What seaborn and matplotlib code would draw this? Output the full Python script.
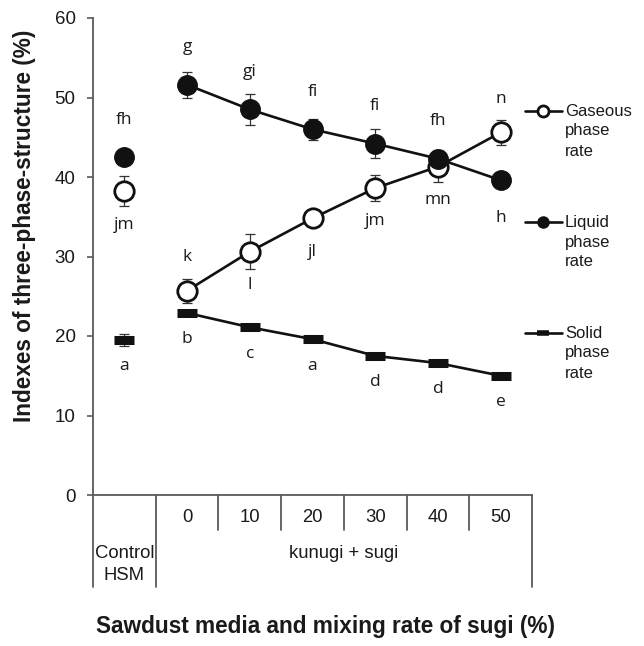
import matplotlib
matplotlib.use("Agg")
import matplotlib.pyplot as plt
from matplotlib.lines import Line2D
import matplotlib.transforms as mtransforms
import numpy as np
import pandas as pd
import seaborn as sns

# Categories along the x axis
groups = ["Control\nHSM", "0", "10", "20", "30", "40", "50"]
mix_labels = ["0", "10", "20", "30", "40", "50"]

# Three-phase-structure indexes (%) and their errors
gaseous = [38.2, 25.7, 30.6, 34.8, 38.6, 41.3, 45.6]
gaseous_err = [1.9, 1.5, 2.2, 0.7, 1.6, 1.9, 1.6]
liquid = [42.5, 51.6, 48.5, 46.0, 44.2, 42.3, 39.6]
liquid_err = [0.9, 1.6, 1.9, 1.3, 1.8, 1.1, 0.8]
solid = [19.5, 22.9, 21.1, 19.6, 17.5, 16.6, 15.0]
solid_err = [0.8, 0.3, 0.3, 0.3, 0.3, 0.3, 0.3]

# Significance letters and on which side of the point they sit (+1 above, -1 below)
gaseous_letters = ["jm", "k", "l", "jl", "jm", "mn", "n"]
gaseous_side = [-1, 1, -1, -1, -1, -1, 1]
liquid_letters = ["fh", "g", "gi", "fi", "fi", "fh", "h"]
liquid_side = [1, 1, 1, 1, 1, 1, -1]
solid_letters = ["a", "b", "c", "a", "d", "d", "e"]
solid_side = [-1, -1, -1, -1, -1, -1, -1]

legend_labels = [["Gaseous", "phase", "rate"],
                 ["Liquid", "phase", "rate"],
                 ["Solid", "phase", "rate"]]

sns.set_style("white")
plt.rcParams["font.family"] = ["Liberation Sans", "DejaVu Sans"]

W, H = 644, 646
fig = plt.figure(figsize=(W / 100, H / 100), dpi=100)
ax_l, ax_r, ax_t, ax_b = 93, 532, 18, 495
ax = fig.add_axes([ax_l / W, 1 - ax_b / H, (ax_r - ax_l) / W, (ax_b - ax_t) / H])

x = np.arange(len(groups))
df = pd.DataFrame({"pos": x, "gaseous": gaseous, "liquid": liquid, "solid": solid})
mix = df.iloc[1:]
ctrl = df.iloc[:1]

axis_col = "#5a5a5a"
ink = "#111111"
txt = "#1a1a1a"
err_col = "#333333"

# error bars
for vals, errs in [(gaseous, gaseous_err), (liquid, liquid_err), (solid, solid_err)]:
    ax.errorbar(x, vals, yerr=errs, fmt="none", ecolor=err_col, elinewidth=0.9,
                capsize=3.5, capthick=0.9, zorder=2, clip_on=False)

solid_kw = dict(marker="_", markersize=15, markeredgewidth=6.5, color=ink,
                markeredgecolor=ink)
gas_kw = dict(marker="o", markersize=14, markerfacecolor="white",
              markeredgecolor=ink, markeredgewidth=2.0, color=ink)
liq_kw = dict(marker="o", markersize=14, markerfacecolor=ink,
              markeredgecolor=ink, markeredgewidth=1.0, color=ink)

sns.lineplot(data=mix, x="pos", y="solid", linewidth=1.9, ax=ax, zorder=3, **solid_kw)
sns.lineplot(data=mix, x="pos", y="gaseous", linewidth=1.9, ax=ax, zorder=4, **gas_kw)
sns.lineplot(data=mix, x="pos", y="liquid", linewidth=1.9, ax=ax, zorder=5, **liq_kw)
for col, kw, z in [("solid", solid_kw, 3), ("gaseous", gas_kw, 4), ("liquid", liq_kw, 5)]:
    ax.plot(ctrl["pos"], ctrl[col], linestyle="none", zorder=z, clip_on=False, **kw)

# significance letters
letter_font = dict(family=["Open Sans", "DejaVu Sans"], fontsize=12.5, color=txt,
                   ha="center", va="center")
for vals, letters, sides, off in [(gaseous, gaseous_letters, gaseous_side, 24),
                                  (liquid, liquid_letters, liquid_side, 27),
                                  (solid, solid_letters, solid_side, 19)]:
    for xi, v, lab, s in zip(x, vals, letters, sides):
        ax.annotate(lab, (xi, v), xytext=(0, s * off), textcoords="offset points",
                    annotation_clip=False, **letter_font)

ax.set_xlim(-0.5, len(groups) - 0.5)
ax.set_ylim(0, 60)
ax.set_yticks(range(0, 61, 10))
ax.set_xticks([])
ax.set_xlabel("")
ax.set_ylabel("")
ax.tick_params(axis="y", direction="out", length=4.5, width=1.2, color=axis_col,
               labelsize=13.5, labelcolor=txt, pad=8, left=True)
for side in ["top", "right"]:
    ax.spines[side].set_visible(False)
for side in ["left", "bottom"]:
    ax.spines[side].set_color(axis_col)
    ax.spines[side].set_linewidth(1.3)

# category table under the axis
trans = mtransforms.blended_transform_factory(ax.transData, ax.transAxes)
axh = ax_b - ax_t
y_full = -(587 - ax_b) / axh
y_short = -(530 - ax_b) / axh
for xb in [-0.5, 0.5, len(groups) - 0.5]:
    ax.add_line(Line2D([xb, xb], [0, y_full], transform=trans, color=axis_col,
                       linewidth=1.3, clip_on=False))
for xb in np.arange(1.5, len(groups) - 1, 1.0):
    ax.add_line(Line2D([xb, xb], [0, y_short], transform=trans, color=axis_col,
                       linewidth=1.3, clip_on=False))
for xi, lab in zip(x[1:], mix_labels):
    ax.text(xi, -(518 - ax_b) / axh, lab, transform=trans, ha="center", va="center",
            fontsize=13.3, color=txt)
ctrl_lines = groups[0].split("\n")
for lab, ypx in zip(ctrl_lines, [553, 575]):
    ax.text(0, -(ypx - ax_b) / axh, lab, transform=trans, ha="center", va="center",
            fontsize=13.3, color=txt)
ax.text((1 + len(groups) - 1) / 2, -(553 - ax_b) / axh, "kunugi + sugi", transform=trans,
        ha="center", va="center", fontsize=13.3, color=txt)

# axis titles
fig.text(325 / W, 1 - 627 / H, "Sawdust media and mixing rate of sugi (%)",
         ha="center", va="center", fontsize=16.3, fontweight="bold", color=txt)
fig.text(25 / W, 1 - 226 / H, "Indexes of three-phase-structure (%)", rotation=90,
         ha="center", va="center", fontsize=16.3, fontweight="bold", color=txt)

# legend on the right
leg_markers = [
    dict(marker="o", markersize=8, markerfacecolor="white", markeredgecolor=ink,
         markeredgewidth=2.0),
    dict(marker="o", markersize=8, markerfacecolor=ink, markeredgecolor=ink),
    dict(marker="_", markersize=9, markeredgewidth=4, markeredgecolor=ink),
]
for lines, ypx, mk in zip(legend_labels, [111, 222, 333], leg_markers):
    yf = 1 - ypx / H
    fig.add_artist(Line2D([525 / W, 562 / W], [yf, yf], transform=fig.transFigure,
                          color=ink, linewidth=1.9))
    fig.add_artist(Line2D([543 / W], [yf], transform=fig.transFigure, color=ink,
                          linestyle="none", **mk))
    for i, word in enumerate(lines):
        fig.text(565 / W, 1 - (ypx + 20 * i) / H, word, ha="left", va="center",
                 fontsize=12, color=txt)

fig.savefig("out.png", dpi=100)
